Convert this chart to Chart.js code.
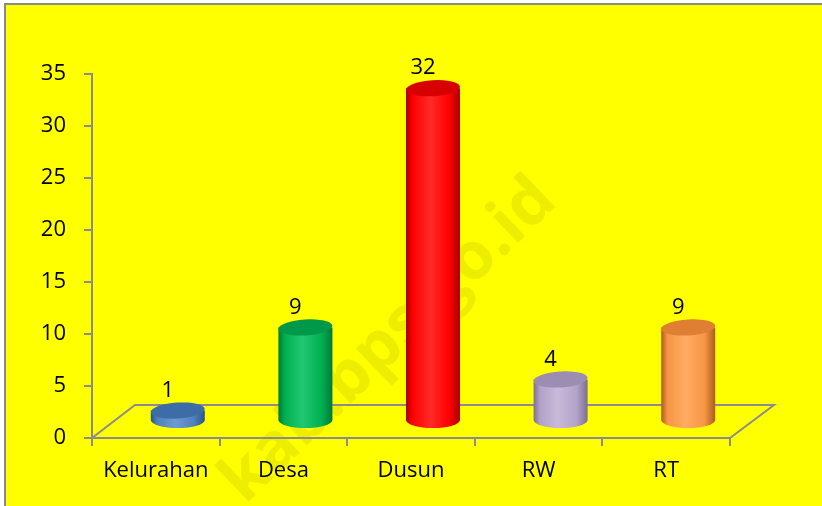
<!DOCTYPE html>
<html>
<head>
<meta charset="utf-8">
<script src="https://cdn.jsdelivr.net/npm/chart.js@4.4.1/dist/chart.umd.min.js"></script>
<style>
  html, body { margin: 0; padding: 0; background: #fff; }
  #wrap { width: 822px; height: 506px; position: relative; }
</style>
</head>
<body>
<div id="wrap"><canvas id="chart"></canvas></div>
<script>
const categories = ['Kelurahan', 'Desa', 'Dusun', 'RW', 'RT'];
const counts = [1, 9, 32, 4, 9];
const yTicks = [0, 5, 10, 15, 20, 25, 30, 35];

// cylinder colours: side, light, dark, top
const sideColors = ['#4f81bd', '#00b050', '#ff0000', '#b3a2c7', '#f79646'];
const lightColors = ['#6d9ad3', '#22c873', '#ff2a2a', '#c8badb', '#ffab62'];
const darkColors = ['#2c5486', '#00793a', '#a80000', '#7c6e92', '#ad5d1c'];
const topColors = ['#3d6da6', '#00994a', '#d60000', '#9c8db2', '#de7f34'];

const AXIS = '#8c8c8c';
const FONT = { family: '"Open Sans", sans-serif', size: 22 };
const DX = 22, DY = -17, RX = 27, RY = 8;

const decor = {
  id: 'decor',
  beforeDraw(chart) {
    const c = chart.ctx;
    c.save();
    c.fillStyle = '#ffffff';
    c.fillRect(0, 0, chart.width, chart.height);
    c.fillStyle = '#ffff00';
    c.fillRect(5, 4, chart.width, chart.height);
    c.strokeStyle = '#8a8a8a';
    c.lineWidth = 2;
    c.strokeRect(5, 4, chart.width + 10, chart.height + 10);
    // faint watermark
    c.translate(245, 505);
    c.rotate(-Math.PI / 4 + 0.02);
    c.font = 'bold 66px "Open Sans", sans-serif';
    c.fillStyle = '#eded00';
    c.textBaseline = 'alphabetic';
    c.fillText('kab.bps.go.id', 0, 0);
    c.restore();
  },
  beforeDatasetsDraw(chart) {
    // 3D floor
    const { left, right, bottom } = chart.chartArea;
    const c = chart.ctx;
    c.save();
    c.strokeStyle = AXIS;
    c.lineWidth = 2;
    c.beginPath();
    c.moveTo(left, bottom);
    c.lineTo(left + 43, bottom - 33);
    c.lineTo(right + 44, bottom - 33);
    c.lineTo(right, bottom);
    c.stroke();
    c.restore();
  },
  beforeDatasetDraw() {
    return false;
  },
  afterDatasetsDraw(chart) {
    const c = chart.ctx;
    const meta = chart.getDatasetMeta(0);
    meta.data.forEach((bar, i) => {
      const cx = bar.x + DX;
      const top = bar.y + DY;
      const base = bar.base + DY;
      c.save();
      const g = c.createLinearGradient(cx - RX, 0, cx + RX, 0);
      g.addColorStop(0, darkColors[i]);
      g.addColorStop(0.12, sideColors[i]);
      g.addColorStop(0.45, lightColors[i]);
      g.addColorStop(0.8, sideColors[i]);
      g.addColorStop(1, darkColors[i]);
      c.fillStyle = g;
      c.beginPath();
      c.moveTo(cx - RX, top);
      c.lineTo(cx - RX, base);
      c.ellipse(cx, base, RX, RY, 0, Math.PI, 0, true);
      c.lineTo(cx + RX, top);
      c.closePath();
      c.fill();
      c.fillStyle = topColors[i];
      c.beginPath();
      c.ellipse(cx, top, RX, RY, -0.06, 0, Math.PI * 2);
      c.fill();
      c.fillStyle = '#000';
      c.font = `${FONT.size}px ${FONT.family}`;
      c.textAlign = 'center';
      c.textBaseline = 'middle';
      c.fillText(String(counts[i]), bar.x + 12, top - 20);
      c.restore();
    });
  }
};

new Chart(document.getElementById('chart'), {
  type: 'bar',
  data: {
    labels: categories,
    datasets: [{ data: counts, backgroundColor: sideColors, barPercentage: 0.42, categoryPercentage: 1 }]
  },
  options: {
    responsive: true,
    maintainAspectRatio: false,
    animation: false,
    layout: { padding: { top: 74, right: 92, left: 0, bottom: 0 } },
    plugins: { legend: { display: false }, tooltip: { enabled: false } },
    scales: {
      x: {
        afterFit(s) { s.height = 68; },
        grid: { drawOnChartArea: false, drawTicks: true, tickLength: 8, color: AXIS, lineWidth: 2, offset: true },
        border: { display: true, color: AXIS, width: 2 },
        ticks: { font: FONT, color: '#000', padding: 12, maxRotation: 0 }
      },
      y: {
        min: 0,
        max: 35,
        afterFit(s) { s.width = 92; },
        afterBuildTicks(s) { s.ticks = yTicks.map(v => ({ value: v })); },
        grid: { drawOnChartArea: false, drawTicks: true, tickLength: 8, color: AXIS, lineWidth: 2 },
        border: { display: true, color: AXIS, width: 2 },
        ticks: { font: FONT, color: '#000', padding: 18 }
      }
    }
  },
  plugins: [decor]
});
</script>
</body>
</html>
